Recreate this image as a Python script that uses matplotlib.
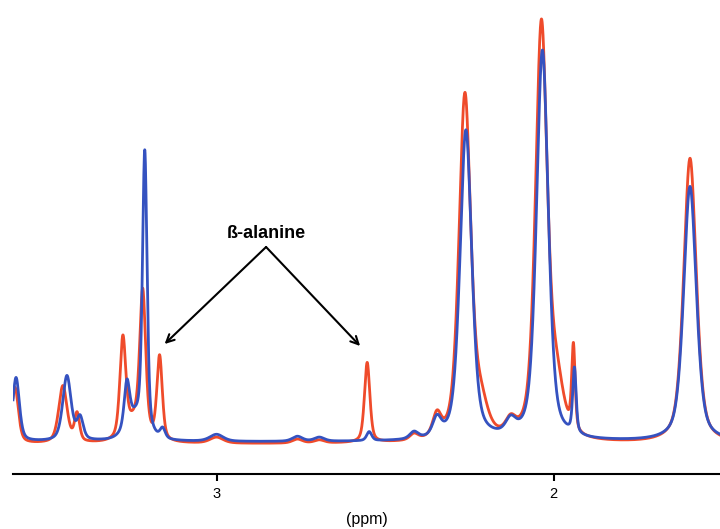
import numpy as np
import matplotlib
matplotlib.use("Agg")
import matplotlib.pyplot as plt

plt.rcParams['font.family'] = ['Liberation Sans', 'DejaVu Sans']

# Peak tables (ppm, height above baseline, half-width in ppm)
red_ppm    = [3.598, 3.456, 3.414, 3.278, 3.243, 3.219, 3.169, 3.000, 2.760, 2.695, 2.553, 2.414, 2.346, 2.263, 2.216, 2.127, 2.036, 1.991, 1.941, 1.595]
red_height = [56,    57,    28,    98,    20,    140,   84,    6,     4,     3,     80,    6,     22,    345,   30,    14,    415,   50,    85,    285]
red_hwhm   = [0.0118,0.0148,0.0089,0.0104,0.0300,0.0104,0.0095,0.0237,0.0178,0.0178,0.0095,0.0148,0.0148,0.0207,0.0237,0.0178,0.0207,0.0237,0.006, 0.0222]
red_base = 30

blue_ppm    = [3.595, 3.444, 3.405, 3.266, 3.243, 3.213, 3.160, 3.000, 2.760, 2.695, 2.547, 2.414, 2.346, 2.260, 2.127, 2.033, 1.938, 1.595]
blue_height = [64,    65,    22,    45,    22,    280,   10,    7,     5,     4,     9,     7,     18,    310,   14,    390,   65,    255]
blue_hwhm   = [0.0118,0.0148,0.0110,0.0095,0.0300,0.0080,0.0089,0.0237,0.0178,0.0178,0.0089,0.0148,0.0148,0.0207,0.0178,0.0207,0.006, 0.0222]
blue_base = 32

tick_values = [3, 2]
tick_labels = ["3", "2"]
x_left, x_right = 3.604, 1.506
LORENTZ_FRACTION = 0.5


def spectrum(x, centers, heights, widths, base):
    y = np.full_like(x, float(base))
    for c, h, w in zip(centers, heights, widths):
        d = (x - c) / w
        lor = 1.0 / (1.0 + d ** 2)
        gau = np.exp(-np.log(2) * d ** 2)
        y += h * (LORENTZ_FRACTION * lor + (1 - LORENTZ_FRACTION) * gau)
    return y


ppm = np.linspace(x_left, x_right, 4000)
red = spectrum(ppm, red_ppm, red_height, red_hwhm, red_base)
blue = spectrum(ppm, blue_ppm, blue_height, blue_hwhm, blue_base)

fig = plt.figure(figsize=(7.2, 5.29), dpi=100)
ax = fig.add_axes([13 / 720, 55 / 529, 707 / 720, 474 / 529])
ax.plot(ppm, red, color='#EF4B2B', lw=2.0, solid_joinstyle='round')
ax.plot(ppm, blue, color='#3552C0', lw=2.0, solid_joinstyle='round')
ax.set_xlim(x_left, x_right)
ax.set_ylim(0, 474)

for s in ['top', 'right', 'left']:
    ax.spines[s].set_visible(False)
ax.spines['bottom'].set_linewidth(1.5)
ax.set_yticks([])
ax.set_xticks(tick_values)
ax.set_xticklabels(tick_labels, fontsize=10.5)
ax.tick_params(axis='x', direction='out', length=5, width=1.5, pad=4)
ax.set_xlabel("(ppm)", fontsize=11.5, labelpad=8)

# annotation
ax.text(2.853, 474 - 233, "ß-alanine", ha='center', va='center', fontsize=13, fontweight='bold')
apex = (2.853, 474 - 247)
for target in [(3.154, 474 - 344), (2.574, 474 - 346)]:
    ax.annotate("", xy=target, xytext=apex,
                arrowprops=dict(arrowstyle='->', color='black', lw=1.5, shrinkA=0, shrinkB=0,
                                mutation_scale=14))

fig.savefig("out.png", dpi=100)
